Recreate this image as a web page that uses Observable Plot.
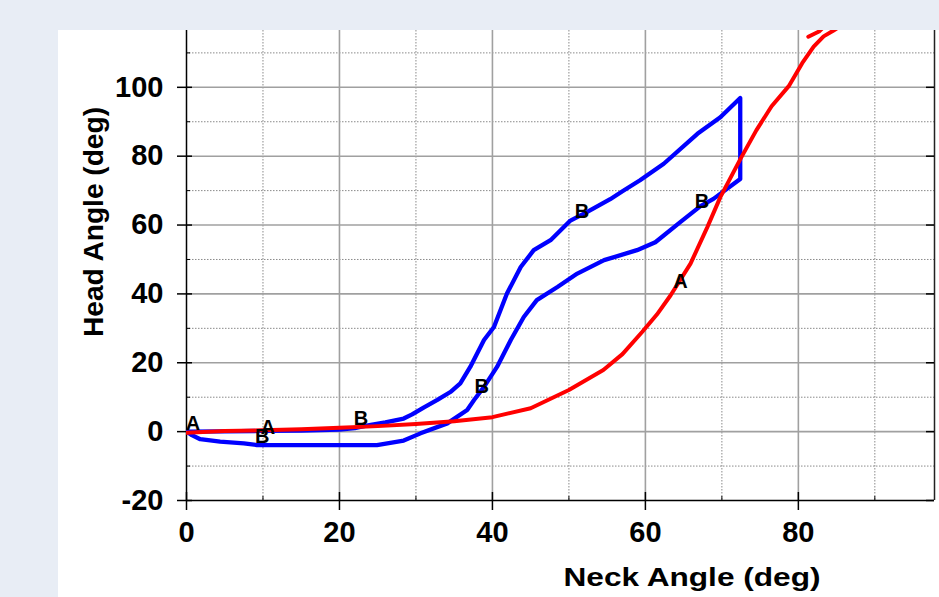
<!DOCTYPE html>
<html><head><meta charset="utf-8">
<script src="https://cdn.jsdelivr.net/npm/d3@7"></script>
<script src="https://cdn.jsdelivr.net/npm/@observablehq/plot@0.6"></script>
<style>
html,body{margin:0;padding:0;background:#e8edf5;width:939px;height:597px;overflow:hidden}
#panel{position:absolute;left:58px;top:30px;width:881px;height:567px;background:#fff}
</style></head><body><div id="panel"></div>
<script>
// Axis ticks
const xMajor = [0, 20, 40, 60, 80];
const xMinor = [10, 30, 50, 70, 90];
const yMajor = [-20, 0, 20, 40, 60, 80, 100];
const yMinor = [-10, 10, 30, 50, 70, 90, 110];
const xDomain = [0, 97.8];
const yDomain = [-20, 116.5];

// Series A (red): [neck angle, head angle]
const curveA = [[0,-0.3],[5,0.2],[10,0.4],[15,0.7],[20,1.1],[25,1.6],[30,2.2],[35,3.0],[40,4.2],[45,6.8],[50,12.1],[54.5,17.9],[57,22.5],[59.6,29],[61.5,34],[63.3,39.6],[65.9,48.8],[68.1,59.4],[69.8,68.1],[72.5,79.5],[74.5,87.5],[76.5,94.5],[78.8,100.5],[80.5,107],[82,111.8],[83.3,114.8],[84.6,116.5],[86,118.5]];
const curveA2 = [[81.3,114.7],[82.7,116.2],[83.3,117.5]];

// Series B (blue), closed loop
const curveB = [[0,0],[5,0.1],[10,0.2],[15,0.3],[20,0.6],[22,1.0],[24.1,2.0],[26,2.7],[28.4,3.8],[29.5,5],[31,7],[32.8,9.2],[34.5,11.5],[35.8,14],[37.1,18.8],[38.9,26.6],[40.2,30.4],[41.9,40.1],[43.7,47.8],[45.4,52.7],[47.6,55.6],[50.2,61.3],[52.4,63.8],[55.4,67.5],[57,69.8],[59.3,73],[62.4,77.8],[66.8,86.5],[69.8,91.3],[72.4,96.9],[72.4,73.4],[68.9,67.6],[67.2,65.5],[64.6,60.9],[61.3,55],[58.9,52.7],[54.6,49.8],[51.1,45.9],[48.5,42],[45.8,38.2],[44.1,33.3],[42.4,26.6],[40.6,18.8],[38.9,13],[37.6,9.2],[36.7,6.3],[34.1,2.4],[30.6,-0.5],[28.4,-2.6],[24.9,-3.9],[19.7,-3.9],[9.2,-3.9],[7.5,-3.4],[4.4,-2.9],[1.8,-2.2],[0.7,-1],[0,0]];

// Point labels
const labelText = ["A","A","A","B","B","B","B","B"];
const labelX = [0.85, 10.65, 64.6, 9.9, 22.8, 38.6, 51.7, 67.4];
const labelY = [2.2, 1.3, 43.7, -1.3, 3.7, 13, 64, 66.7];

const W = 881, H = 567, mL = 128, mR = 5, mT = 0, mB = 97;
const plotW = W - mL - mR, plotH = H - mT - mB;

const lineA = curveA.map(([x,y]) => ({x, y, seg: 0})).concat(curveA2.map(([x,y]) => ({x, y, seg: 1})));
const lineB = curveB.map(([x,y]) => ({x, y}));
const labels = labelText.map((t,i) => ({t, x: labelX[i], y: labelY[i]}));

const fmt = d => String(d);
const font = "'Liberation Sans', Arial, sans-serif";

const chart = Plot.plot({
  width: W, height: H,
  marginLeft: mL, marginRight: mR, marginTop: mT, marginBottom: mB,
  style: {background: "white", fontFamily: font, overflow: "visible"},
  x: {domain: xDomain},
  y: {domain: yDomain},
  marks: [
    Plot.gridX(xMinor, {stroke: "#8a8a8a", strokeOpacity: 1, strokeWidth: 1, strokeDasharray: "1.5,1.5"}),
    Plot.gridY(yMinor, {stroke: "#8a8a8a", strokeOpacity: 1, strokeWidth: 1, strokeDasharray: "1.5,1.5"}),
    Plot.gridX(xMajor.filter(d => d > 0), {stroke: "#a0a0a0", strokeOpacity: 1, strokeWidth: 1.6}),
    Plot.gridY(yMajor.filter(d => d > -20), {stroke: "#a0a0a0", strokeOpacity: 1, strokeWidth: 1.6}),
    Plot.ruleX([xDomain[0]], {stroke: "#000", strokeWidth: 1.5}),
    Plot.ruleX([xDomain[1]], {stroke: "#222", strokeWidth: 1.5}),
    Plot.ruleY([yDomain[0]], {stroke: "#000", strokeWidth: 1.5}),
    Plot.ruleX(xMajor, {insetTop: plotH - 8, stroke: "#000", strokeWidth: 1.5}),
    Plot.ruleX(xMinor, {insetTop: plotH - 4, stroke: "#000", strokeWidth: 1}),
    Plot.ruleY(yMajor, {insetRight: plotW - 6, stroke: "#000", strokeWidth: 1.5}),
    Plot.ruleY(yMinor, {insetRight: plotW - 4, stroke: "#000", strokeWidth: 1}),
    Plot.ruleY(yMajor, {insetLeft: plotW - 8, stroke: "#000", strokeWidth: 1.5}),
    Plot.axisX({ticks: xMajor, tickSize: 10, tickPadding: 11, fontSize: 29, fontWeight: "bold", label: null, tickFormat: fmt, strokeWidth: 1.5}),
    Plot.axisY({ticks: yMajor, tickSize: 9, tickPadding: 14, fontSize: 29, fontWeight: "bold", label: null, tickFormat: fmt, strokeWidth: 1.5}),
    Plot.line(lineB, {x: "x", y: "y", stroke: "#0000ff", strokeWidth: 4.3, strokeLinejoin: "round", clip: true}),
    Plot.line(lineA, {x: "x", y: "y", z: "seg", stroke: "#ff0000", strokeWidth: 4, strokeLinejoin: "round", clip: true}),
    Plot.text(labels, {x: "x", y: "y", text: "t", fontSize: 20, fontWeight: "bold", fill: "#000"})
  ]
});

const svg = d3.select(chart.tagName.toLowerCase() === "svg" ? chart : chart.querySelector("svg"));
svg.append("text")
  .attr("x", 634).attr("y", 556)
  .attr("text-anchor", "middle")
  .attr("font-family", font).attr("font-weight", "bold").attr("font-size", 25)
  .attr("textLength", 257).attr("lengthAdjust", "spacingAndGlyphs")
  .attr("fill", "#000")
  .text("Neck Angle (deg)");
svg.append("text")
  .attr("transform", "translate(45,192) rotate(-90)")
  .attr("text-anchor", "middle")
  .attr("font-family", font).attr("font-weight", "bold").attr("font-size", 27)
  .attr("textLength", 230).attr("lengthAdjust", "spacingAndGlyphs")
  .attr("fill", "#000")
  .text("Head Angle (deg)");

document.getElementById("panel").appendChild(chart);
</script></body></html>
